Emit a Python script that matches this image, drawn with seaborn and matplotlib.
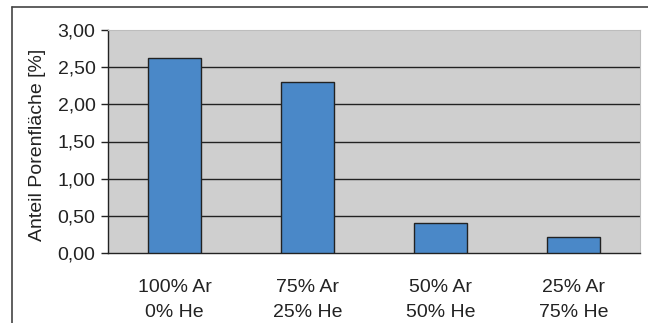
import matplotlib
matplotlib.use("Agg")
import matplotlib.pyplot as plt
import seaborn as sns
from matplotlib.lines import Line2D
from matplotlib.ticker import FixedLocator, FuncFormatter

categories = ["100% Ar\n0% He", "75% Ar\n25% He", "50% Ar\n50% He", "25% Ar\n75% He"]
pore_area = [2.63, 2.30, 0.41, 0.22]
y_ticks = [0.0, 0.5, 1.0, 1.5, 2.0, 2.5, 3.0]

sns.set_style("white")
plt.rcParams["font.family"] = ["Liberation Sans", "DejaVu Sans"]

W, H = 648, 323
fig = plt.figure(figsize=(W / 100, H / 100), dpi=100)
ax = fig.add_axes([108 / W, 1 - 253 / H, (640 - 108) / W, (253 - 30) / H])

sns.barplot(x=categories, y=pore_area, color="#4a88c8", width=0.4,
            edgecolor="#222222", linewidth=1.0, saturation=1, ax=ax, zorder=3)

ax.set_facecolor("#cfcfcf")
ax.set_xlim(-0.5, len(categories) - 0.5)
ax.set_ylim(0, 3.0)
ax.set_yticks(y_ticks)
ax.yaxis.set_major_formatter(FuncFormatter(lambda v, _: f"{v:.2f}".replace(".", ",")))
for v in y_ticks[1:-1]:
    ax.axhline(v, color="#222222", linewidth=1.0, zorder=1)

ax.xaxis.set_minor_locator(FixedLocator([i - 0.5 for i in range(len(categories) + 1)]))
ax.tick_params(axis="x", which="major", length=0, pad=19, labelsize=14, colors="#222222")
ax.tick_params(axis="x", which="minor", length=5, width=1, color="#222222", direction="out")
ax.tick_params(axis="y", length=5, width=1, color="#222222", labelsize=14,
               labelcolor="#222222", left=True, direction="out", pad=4)
for lbl in ax.get_xticklabels():
    lbl.set_linespacing(1.55)
ax.set_ylabel("Anteil Porenfläche [%]", fontsize=14, color="#222222")
ax.yaxis.set_label_coords(-(108 - 46) / 532, 0.5 - (145 - 141.5) / 223)

for side in ["top", "right"]:
    ax.spines[side].set_visible(True)
    ax.spines[side].set_color("#bdbdbd")
for side in ["left", "bottom"]:
    ax.spines[side].set_color("#222222")
    ax.spines[side].set_linewidth(1.0)

# outer chart border
fig.add_artist(Line2D([12 / W, 12 / W], [0, 1 - 7 / H], transform=fig.transFigure,
                      color="#444444", linewidth=1.2))
fig.add_artist(Line2D([12 / W, 1], [1 - 7 / H, 1 - 7 / H], transform=fig.transFigure,
                      color="#444444", linewidth=1.2))

fig.savefig("out.png", dpi=100)
